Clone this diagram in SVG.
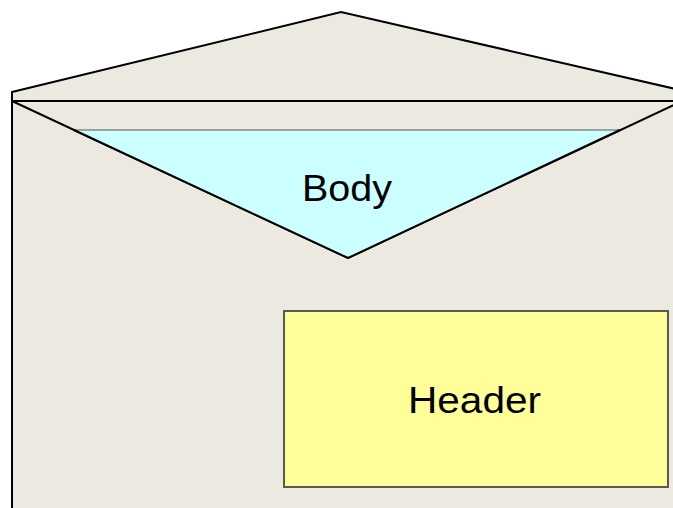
<svg xmlns="http://www.w3.org/2000/svg" width="673" height="508" viewBox="0 0 673 508">
  <style>
    .paper { fill: #ECE9E0; stroke: #000; stroke-width: 2; stroke-linejoin: miter; }
    .line { fill: none; stroke: #000; stroke-width: 2; }
    .label { font-family: "Liberation Sans", Arial, sans-serif; fill: #000; text-anchor: middle; }
  </style>
  <rect width="673" height="508" fill="#FFFFFF"/>
  <!-- envelope back and top flap -->
  <g id="envelope">
    <polygon class="paper" points="12,92 341,12 680,90 680,101 12,101"/>
    <rect class="paper" x="12" y="101" width="670" height="420"/>
    <polyline class="line" points="12,101 348,258 680,102"/>
  </g>
  <!-- inner flap (body) -->
  <g id="body">
    <polygon points="74,130 620,130 348,258" fill="#CCFFFF"/>
    <line x1="74" y1="130" x2="620" y2="130" stroke="#555" stroke-width="1"/>
    <polyline class="line" points="74,130 348,258 620,130"/>
    <text class="label" x="347" y="201" font-size="36" textLength="90" lengthAdjust="spacingAndGlyphs">Body</text>
  </g>
  <!-- address card (header) -->
  <g id="header">
    <rect x="284" y="311" width="384" height="176" fill="#FFFF99" stroke="#5A5A50" stroke-width="2"/>
    <text class="label" x="474.5" y="413" font-size="37" textLength="133" lengthAdjust="spacingAndGlyphs">Header</text>
  </g>
</svg>
